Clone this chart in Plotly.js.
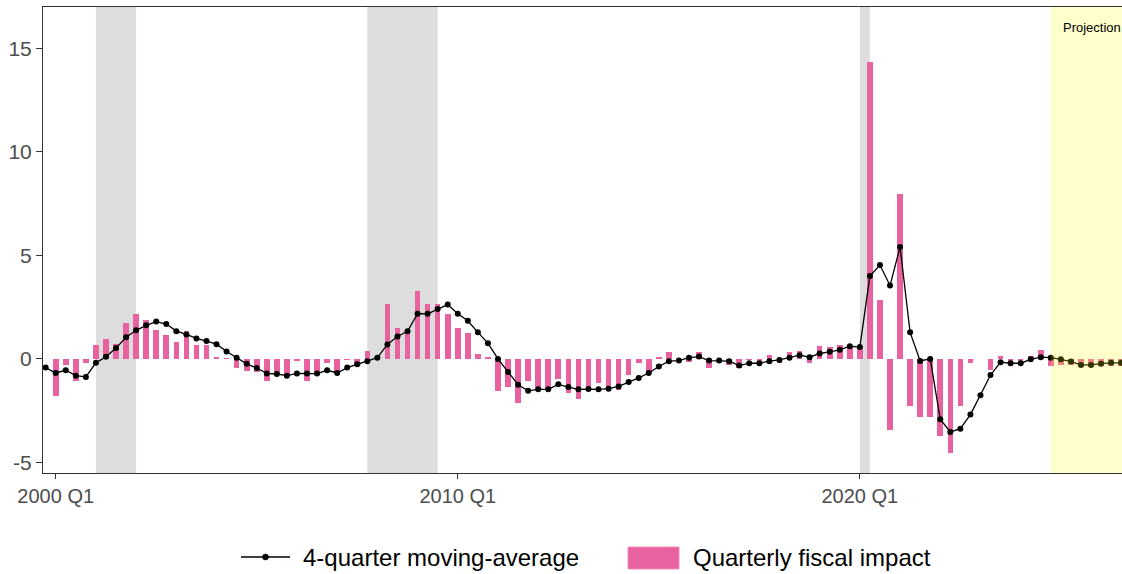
<!DOCTYPE html>
<html>
<head>
<meta charset="utf-8">
<script src="https://cdn.plot.ly/plotly-3.0.1.min.js"></script>
<style>
  html, body { margin: 0; padding: 0; background: #ffffff; }
  #chart { width: 1122px; height: 574px; }
</style>
</head>
<body>
<div id="chart"></div>
<script>
// ---- Data ----
// First quarter shown: 1999 Q4 (as year fraction)
const quarterStart = 1999.75;
const quarterStep = 0.25;

// Quarterly fiscal impact (percentage points), 1999 Q4 .. 2026 Q3
const fiscalImpact = [
  null,
  -1.80, -0.29, -1.05, -0.20, 0.68, 0.94, 0.70, 1.75, 2.18, 1.89,
  1.38, 1.17, 0.81, 1.33, 0.65, 0.65, 0.10, 0.03, -0.42, -0.58,
  -0.61, -1.05, -0.75, -0.85, -0.12, -1.05, -0.70, -0.20, -0.65, -0.05,
  -0.30, 0.39, 0.05, 2.65, 1.49, 1.40, 3.30, 2.65, 2.65, 2.18,
  1.49, 1.25, 0.24, 0.11, -1.57, -1.38, -2.15, -1.05, -1.50, -1.50,
  -0.99, -1.67, -1.93, -1.50, -1.15, -1.50, -1.50, -0.78, -0.21, -0.70,
  0.10, 0.31, -0.03, -0.15, 0.31, -0.45, -0.03, -0.30, -0.45, -0.06,
  -0.10, 0.17, -0.21, 0.34, 0.40, -0.21, 0.60, 0.57, 0.65, 0.60,
  0.55, 14.32, 2.82, -3.45, 7.96, -2.27, -2.80, -2.80, -3.74, -4.55,
  -2.28, -0.21, 0.00, -0.55, 0.15, -0.35, -0.09, 0.15, 0.44, -0.32,
  -0.30, -0.30, -0.37, -0.37, -0.34, -0.32, -0.32
];

// 4-quarter moving average, 1999 Q4 .. 2026 Q3
const movingAverage = [
  -0.42,
  -0.68, -0.55, -0.81, -0.87, -0.19, 0.10, 0.52, 1.04, 1.38, 1.62,
  1.80, 1.68, 1.34, 1.18, 0.99, 0.86, 0.71, 0.36, 0.05, -0.24,
  -0.44, -0.70, -0.73, -0.81, -0.70, -0.70, -0.71, -0.55, -0.68, -0.42,
  -0.26, -0.11, 0.06, 0.70, 1.08, 1.33, 2.18, 2.18, 2.41, 2.62,
  2.18, 1.84, 1.28, 0.76, 0.00, -0.63, -1.25, -1.54, -1.47, -1.47,
  -1.23, -1.36, -1.47, -1.46, -1.47, -1.44, -1.33, -1.12, -0.92, -0.68,
  -0.37, -0.11, -0.08, 0.06, 0.11, -0.08, -0.08, -0.11, -0.32, -0.21,
  -0.21, -0.11, -0.05, 0.05, 0.18, 0.08, 0.26, 0.34, 0.44, 0.61,
  0.57, 4.00, 4.53, 3.54, 5.40, 1.28, -0.10, 0.00, -2.91, -3.53,
  -3.37, -2.69, -1.76, -0.78, -0.16, -0.21, -0.21, -0.02, 0.08, 0.06,
  -0.02, -0.13, -0.29, -0.29, -0.23, -0.19, -0.19
];

const xTickValues = [2000, 2010, 2020];
const xTickLabels = ['2000 Q1', '2010 Q1', '2020 Q1'];
const yTickValues = [-5, 0, 5, 10, 15];
const yTickLabels = ['-5', '0', '5', '10', '15'];

const recessionStart = [2001.0, 2007.75, 2020.0];
const recessionEnd   = [2002.0, 2009.5, 2020.25];
const projectionStart = 2024.75;
const projectionLabel = 'Projection';

const seriesNames = ['4-quarter moving-average', 'Quarterly fiscal impact'];

// ---- Build chart ----
const quarters = fiscalImpact.map((_, i) => quarterStart + i * quarterStep);

const PINK = '#E8629F';
const W = 1122, H = 574;
const M = { l: 43, r: 0, t: 7, b: 101 };
const pw = W - M.l - M.r, ph = H - M.t - M.b;
const px = v => (v - M.l) / pw;
const py = v => (H - M.b - v) / ph;

const barTrace = {
  type: 'bar',
  x: quarters,
  y: fiscalImpact,
  width: 0.14,
  marker: { color: PINK, line: { width: 0 } },
  name: seriesNames[1],
  hoverinfo: 'x+y'
};

const lineTrace = {
  type: 'scatter',
  mode: 'lines+markers',
  x: quarters,
  y: movingAverage,
  line: { color: '#000000', width: 1.3 },
  marker: { color: '#000000', size: 6 },
  name: seriesNames[0],
  cliponaxis: false
};

const shapes = [];
recessionStart.forEach((s, i) => {
  shapes.push({
    type: 'rect', xref: 'x', yref: 'paper',
    x0: s, x1: recessionEnd[i], y0: 0, y1: 1,
    fillcolor: '#DDDDDD', line: { width: 0 }, layer: 'below'
  });
});
shapes.push({
  type: 'rect', xref: 'x', yref: 'paper',
  x0: projectionStart, x1: 2027.5, y0: 0, y1: 1,
  fillcolor: 'rgba(255,255,0,0.2)', line: { width: 0 }, layer: 'above'
});

// custom legend keys
shapes.push({
  type: 'line', xref: 'paper', yref: 'paper',
  x0: px(241), x1: px(290), y0: py(557), y1: py(557),
  line: { color: '#000000', width: 1.5 }
});
shapes.push({
  type: 'circle', xref: 'paper', yref: 'paper',
  x0: px(262.5), x1: px(268.5), y0: py(554), y1: py(560),
  fillcolor: '#000000', line: { color: '#000000', width: 0.5 }
});
shapes.push({
  type: 'rect', xref: 'paper', yref: 'paper',
  x0: px(628), x1: px(679), y0: py(547), y1: py(569),
  fillcolor: PINK, line: { color: '#F08CBA', width: 1 }
});

const annotations = [
  {
    xref: 'x', yref: 'y', x: 2025.0, y: 16,
    text: projectionLabel, showarrow: false,
    xanchor: 'left', yanchor: 'middle',
    font: { family: 'Liberation Sans, Arial, sans-serif', size: 13, color: '#000000' }
  },
  {
    xref: 'paper', yref: 'paper', x: px(301), y: py(557),
    text: seriesNames[0], showarrow: false,
    xanchor: 'left', yanchor: 'middle',
    font: { family: 'Liberation Sans, Arial, sans-serif', size: 24, color: '#000000' }
  },
  {
    xref: 'paper', yref: 'paper', x: px(691), y: py(557),
    text: seriesNames[1], showarrow: false,
    xanchor: 'left', yanchor: 'middle',
    font: { family: 'Liberation Sans, Arial, sans-serif', size: 24, color: '#000000' }
  }
];

const layout = {
  width: W, height: H,
  margin: M,
  paper_bgcolor: '#ffffff',
  plot_bgcolor: '#ffffff',
  showlegend: false,
  bargap: 0,
  font: { family: 'Liberation Sans, Arial, sans-serif' },
  xaxis: {
    range: [1999.684, 2026.52],
    tickvals: xTickValues,
    ticktext: xTickLabels,
    ticks: 'outside', ticklen: 5, tickwidth: 1, tickcolor: '#333333',
    tickfont: { size: 20, color: '#4D4D4D' },
    showgrid: false, zeroline: false,
    showline: true, mirror: true, linecolor: '#333333', linewidth: 1
  },
  yaxis: {
    range: [-5.51, 16.99],
    tickvals: yTickValues,
    ticktext: yTickLabels,
    ticks: 'outside', ticklen: 6, tickwidth: 1, tickcolor: '#333333',
    tickfont: { size: 21, color: '#4D4D4D' },
    showgrid: false, zeroline: false,
    showline: true, mirror: true, linecolor: '#333333', linewidth: 1
  },
  shapes: shapes,
  annotations: annotations
};

Plotly.newPlot('chart', [barTrace, lineTrace], layout, { staticPlot: true, displayModeBar: false });
</script>
</body>
</html>
